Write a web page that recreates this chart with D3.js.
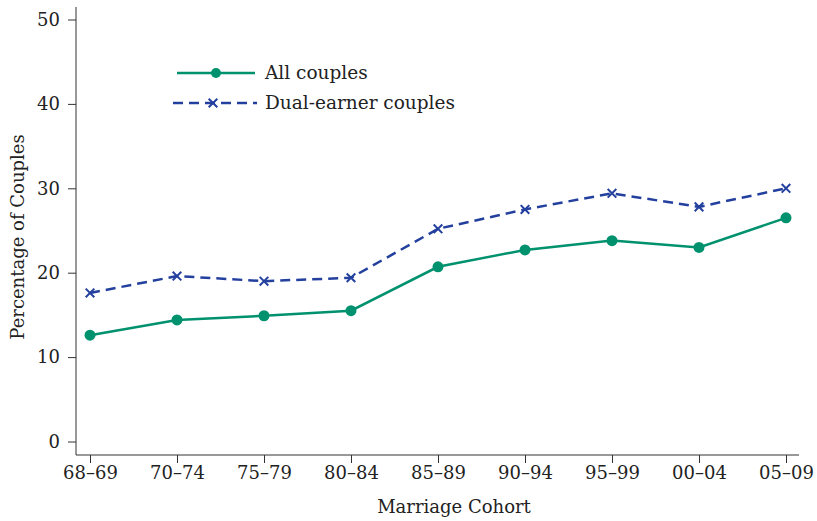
<!DOCTYPE html>
<html><head><meta charset="utf-8">
<script src="https://cdn.jsdelivr.net/npm/d3@7"></script>
<style>body{margin:0;background:#fff}svg{display:block}text{font-family:"DejaVu Serif",serif;fill:#222}</style>
</head><body><svg id="c" width="817" height="521"></svg>
<script>
const categories = ["68\u201369","70\u201374","75\u201379","80\u201384","85\u201389","90\u201394","95\u201399","00\u201304","05\u201309"];
const allCouples = [12.6,14.4,14.9,15.5,20.7,22.7,23.8,23.0,26.5];
const dualEarner = [17.6,19.6,19.0,19.4,25.2,27.5,29.4,27.8,30.0];
const yTicks = [0,10,20,30,40,50];
const seriesNames = ["All couples","Dual-earner couples"];

const green = "#00916e", blue = "#24409e";
const svg = d3.select("#c");
const x = d3.scalePoint().domain(categories).range([90,786]);
const y = d3.scaleLinear().domain([0,50]).range([441.5,19.5]);

// axes
const gy = svg.append("g").attr("transform","translate(76,0)")
  .call(d3.axisLeft(y).tickValues(yTicks).tickSize(8).tickPadding(8).tickSizeOuter(0));
gy.select(".domain").attr("d","M0,7V455");
const gx = svg.append("g").attr("transform","translate(0,455)")
  .call(d3.axisBottom(x).tickSize(8).tickPadding(3).tickSizeOuter(0));
gx.select(".domain").attr("d","M76,0H799");
svg.selectAll(".domain,.tick line").attr("stroke","#333").attr("stroke-width",1);
svg.selectAll(".tick text").attr("font-family","DejaVu Serif").attr("font-size",18).attr("fill","#222");

svg.append("text").attr("x",454).attr("y",513).attr("text-anchor","middle").attr("font-size",18).text("Marriage Cohort");
svg.append("text").attr("transform","translate(24,237) rotate(-90)").attr("text-anchor","middle").attr("font-size",18).text("Percentage of Couples");

const line = d3.line().x((d,i)=>x(categories[i])).y(d=>y(d));
svg.append("path").datum(dualEarner).attr("d",line).attr("fill","none").attr("stroke",blue).attr("stroke-width",2.5).attr("stroke-dasharray","10,6");
svg.append("path").datum(allCouples).attr("d",line).attr("fill","none").attr("stroke",green).attr("stroke-width",2.5);

const cross = d3.symbol().type(d3.symbolX).size(50);
svg.selectAll(".xm").data(dualEarner).join("path").attr("class","xm")
  .attr("transform",(d,i)=>`translate(${x(categories[i])},${y(d)})`).attr("d",cross)
  .attr("fill","none").attr("stroke",blue).attr("stroke-width",2);
svg.selectAll(".dot").data(allCouples).join("circle").attr("class","dot")
  .attr("cx",(d,i)=>x(categories[i])).attr("cy",d=>y(d)).attr("r",5.5).attr("fill",green);

// legend
const lg = svg.append("g");
lg.append("line").attr("x1",177).attr("x2",255).attr("y1",73).attr("y2",73).attr("stroke",green).attr("stroke-width",2.5);
lg.append("circle").attr("cx",216).attr("cy",73).attr("r",5).attr("fill",green);
lg.append("line").attr("x1",173).attr("x2",257).attr("y1",103).attr("y2",103).attr("stroke",blue).attr("stroke-width",2.5).attr("stroke-dasharray","10,6");
lg.append("path").attr("transform","translate(213,103)").attr("d",cross).attr("fill","none").attr("stroke",blue).attr("stroke-width",2);
lg.append("text").attr("x",265).attr("y",79).attr("font-size",18.5).text(seriesNames[0]);
lg.append("text").attr("x",265).attr("y",109).attr("font-size",18.5).text(seriesNames[1]);
</script></body></html>
